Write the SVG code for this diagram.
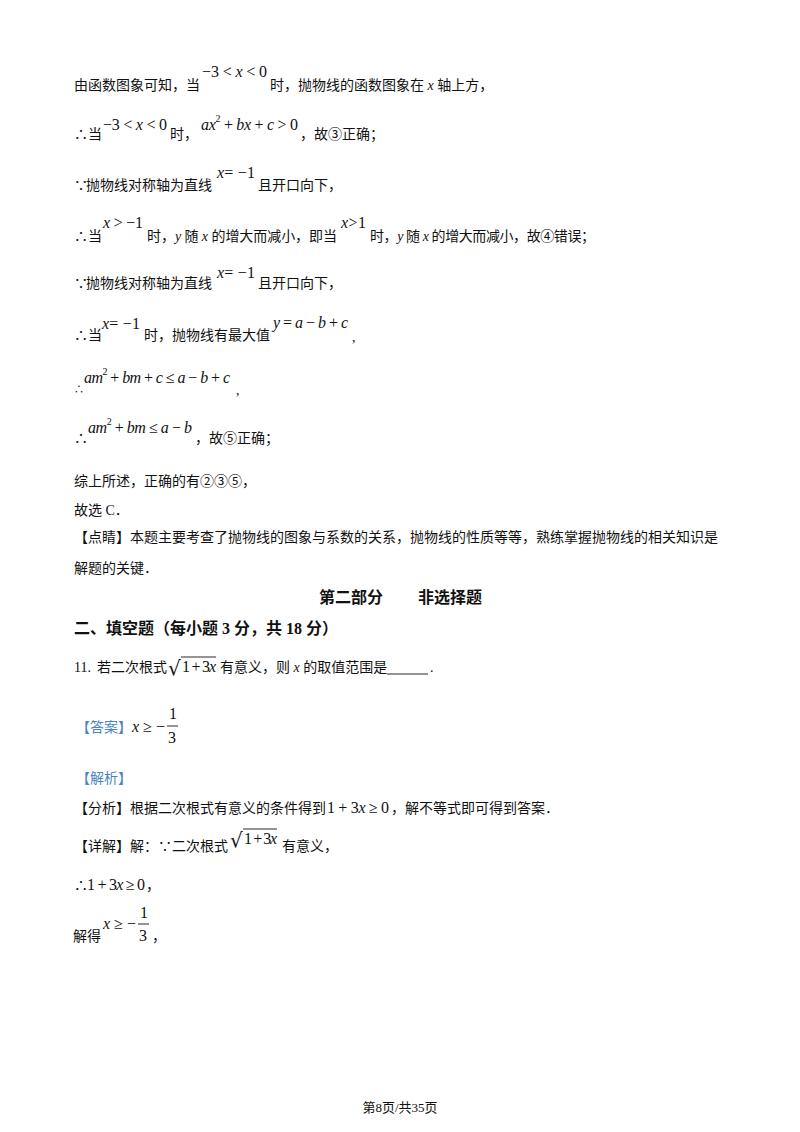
<svg xmlns="http://www.w3.org/2000/svg" width="800" height="1132" viewBox="0 0 800 1132">
<style>
.t{font-family:"Liberation Serif","Noto Sans CJK SC",serif;font-size:14px;fill:#111}
.m{font-family:"Liberation Serif",serif;font-size:16px;fill:#111}
.i{font-style:italic}
.b{font-weight:bold;font-size:16px}
.blue{fill:#4a84c4}
.sup{font-size:10px}
.sm{font-size:10px}
.fr{font-size:16px}
.rad{font-family:"DejaVu Serif","Liberation Serif",serif;font-size:20px;fill:#111}
.ln{stroke:#111;stroke-width:0.9;fill:none}
</style>
<rect width="800" height="1132" fill="#fff"/>
<g id="line1">
<text class="t" x="74" y="90">由函数图象可知，当</text>
<text class="m" x="202" y="77" textLength="65" lengthAdjust="spacing">−3 &lt; <tspan class="i">x</tspan> &lt; 0</text>
<text class="t" x="270" y="90">时，抛物线的函数图象在 <tspan class="i">x</tspan> 轴上方，</text>
</g>
<g id="line2">
<text class="t" x="74" y="139">∴当</text>
<text class="m" x="103" y="130" textLength="64" lengthAdjust="spacing">−3 &lt; <tspan class="i">x</tspan> &lt; 0</text>
<text class="t" x="170" y="139">时，</text>
<text class="m" x="201" y="130" textLength="97" lengthAdjust="spacing"><tspan class="i">ax</tspan><tspan class="sup" dy="-8">2</tspan><tspan dy="8"> + </tspan><tspan class="i">bx</tspan> + <tspan class="i">c</tspan> &gt; 0</text>
<text class="t" x="300" y="139">，故③正确；</text>
</g>
<g id="line3">
<text class="t" x="74" y="190">∵</text>
<text class="t" x="86" y="190">抛物线对称轴为直线</text>
<text class="m" x="217" y="178" textLength="38" lengthAdjust="spacing"><tspan class="i">x</tspan>= −1</text>
<text class="t" x="258" y="190">且开口向下，</text>
</g>
<g id="line4">
<text class="t" x="74" y="241">∴当</text>
<text class="m" x="103" y="228" textLength="40" lengthAdjust="spacing"><tspan class="i">x</tspan> &gt; −1</text>
<text class="t" x="147" y="241" textLength="190" lengthAdjust="spacing">时，<tspan class="i">y</tspan> 随 <tspan class="i">x</tspan> 的增大而减小，即当</text>
<text class="m" x="341" y="228" textLength="25" lengthAdjust="spacing"><tspan class="i">x</tspan> &gt; 1</text>
<text class="t" x="370" y="241" textLength="225" lengthAdjust="spacing">时，<tspan class="i">y</tspan> 随 <tspan class="i">x</tspan> 的增大而减小，故④错误；</text>
</g>
<g id="line5">
<text class="t" x="74" y="288">∵</text>
<text class="t" x="86" y="288">抛物线对称轴为直线</text>
<text class="m" x="217" y="278" textLength="38" lengthAdjust="spacing"><tspan class="i">x</tspan>= −1</text>
<text class="t" x="258" y="288">且开口向下，</text>
</g>
<g id="line6">
<text class="t" x="74" y="340">∴当</text>
<text class="m" x="102" y="329" textLength="38" lengthAdjust="spacing"><tspan class="i">x</tspan>= −1</text>
<text class="t" x="144" y="340">时，抛物线有最大值</text>
<text class="m" x="273" y="328" textLength="75" lengthAdjust="spacing"><tspan class="i">y</tspan> = <tspan class="i">a</tspan> − <tspan class="i">b</tspan> + <tspan class="i">c</tspan></text>
<text class="t" x="352" y="342">,</text>
</g>
<g id="line7">
<text class="t sm" x="74" y="393">∴</text>
<text class="m" x="84" y="383" textLength="146" lengthAdjust="spacing"><tspan class="i">am</tspan><tspan class="sup" dy="-8">2</tspan><tspan dy="8"> + </tspan><tspan class="i">bm</tspan> + <tspan class="i">c</tspan> ≤ <tspan class="i">a</tspan> − <tspan class="i">b</tspan> + <tspan class="i">c</tspan></text>
<text class="t" x="236" y="395">,</text>
</g>
<g id="line8">
<text class="t" x="74" y="443">∴</text>
<text class="m" x="88" y="433" textLength="104" lengthAdjust="spacing"><tspan class="i">am</tspan><tspan class="sup" dy="-8">2</tspan><tspan dy="8"> + </tspan><tspan class="i">bm</tspan> ≤ <tspan class="i">a</tspan> − <tspan class="i">b</tspan></text>
<text class="t" x="195" y="443">，故⑤正确；</text>
</g>
<g id="summary">
<text class="t" x="74" y="486">综上所述，正确的有②③⑤，</text>
<text class="t" x="74" y="515">故选 C．</text>
<text class="t" x="74" y="542">【点睛】本题主要考查了抛物线的图象与系数的关系，抛物线的性质等等，熟练掌握抛物线的相关知识是</text>
<text class="t" x="74" y="573">解题的关键．</text>
</g>
<g id="headings">
<text class="t b" x="319" y="603">第二部分</text>
<text class="t b" x="418" y="603">非选择题</text>
<text class="t b" x="74" y="634">二、填空题（每小题 3 分，共 18 分）</text>
</g>
<g id="question11">
<text class="t" x="74" y="672">11.</text>
<text class="t" x="97" y="672">若二次根式</text>
<text class="rad" x="168" y="675">√</text>
<line class="ln" x1="181" y1="657" x2="216" y2="657"/>
<text class="m" x="182" y="672" textLength="34" lengthAdjust="spacing">1 + 3<tspan class="i">x</tspan></text>
<text class="t" x="220" y="672">有意义，则 <tspan class="i">x</tspan> 的取值范围是</text>
<line class="ln" x1="387" y1="674" x2="428" y2="674"/>
<text class="t" x="430" y="672">.</text>
</g>
<g id="answer">
<text class="t blue" x="76" y="732">【答案】</text>
<text class="m" x="132" y="732"><tspan class="i">x</tspan> ≥ −</text>
<text class="m fr" x="169" y="719">1</text>
<line class="ln" x1="167" y1="726" x2="178" y2="726"/>
<text class="m fr" x="168" y="743">3</text>
</g>
<g id="analysis">
<text class="t blue" x="76" y="783">【解析】</text>
<text class="t" x="74" y="813">【分析】根据二次根式有意义的条件得到</text>
<text class="m" x="327" y="813" textLength="62" lengthAdjust="spacing">1 + 3<tspan class="i">x</tspan> ≥ 0</text>
<text class="t" x="391" y="813">，解不等式即可得到答案．</text>
</g>
<g id="detail">
<text class="t" x="74" y="851">【详解】解：∵二次根式</text>
<text class="rad" x="230" y="847">√</text>
<line class="ln" x1="243" y1="829" x2="277" y2="829"/>
<text class="m" x="244" y="844" textLength="33" lengthAdjust="spacing">1 + 3<tspan class="i">x</tspan></text>
<text class="t" x="282" y="851">有意义，</text>
<text class="t" x="74" y="890">∴</text>
<text class="m" x="87" y="890" textLength="58" lengthAdjust="spacing">1 + 3<tspan class="i">x</tspan> ≥ 0</text>
<text class="t" x="146" y="890">，</text>
<text class="t" x="73" y="941">解得</text>
<text class="m" x="103" y="929"><tspan class="i">x</tspan> ≥ −</text>
<text class="m fr" x="140" y="918">1</text>
<line class="ln" x1="138" y1="924" x2="149" y2="924"/>
<text class="m fr" x="139" y="941">3</text>
<text class="t" x="152" y="941">，</text>
</g>
<g id="footer">
<text class="t" x="400" y="1112" style="font-size:13px" text-anchor="middle">第8页/共35页</text>
</g>
</svg>
